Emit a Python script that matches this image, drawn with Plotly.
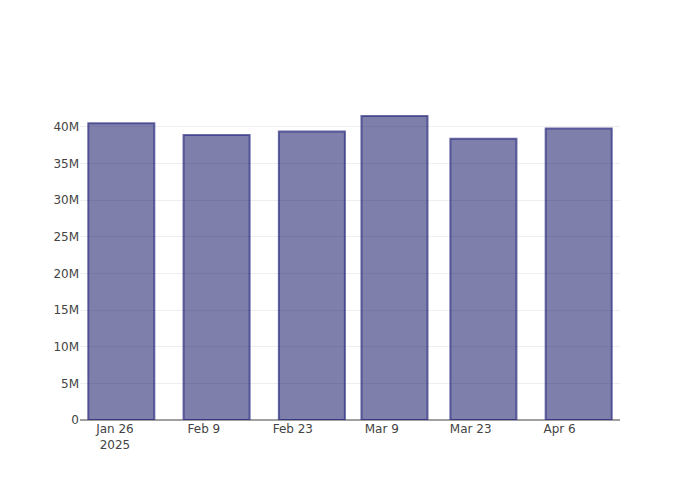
import plotly.graph_objects as go

dates = ["2025-01-27", "2025-02-11", "2025-02-26", "2025-03-11", "2025-03-25", "2025-04-09"]
values = [40.5e6, 38.9e6, 39.4e6, 41.5e6, 38.4e6, 39.8e6]

fig = go.Figure(
    go.Bar(
        x=dates,
        y=values,
        marker=dict(
            color="rgba(0,0,90,0.5)",
            line=dict(color="rgba(45,45,130,0.7)", width=2),
        ),
    )
)
fig.update_layout(
    template="plotly_white",
    width=700,
    height=500,
    margin=dict(l=72, r=88, t=92, b=88),
    font=dict(family="DejaVu Sans, Verdana, sans-serif", color="#444"),
)
fig.update_xaxes(showline=False, showgrid=False, zeroline=False)
fig.update_yaxes(gridcolor="#EEEEEE", zeroline=True, zerolinecolor="#A0A0A0", zerolinewidth=2)
fig.write_html("out.html")
